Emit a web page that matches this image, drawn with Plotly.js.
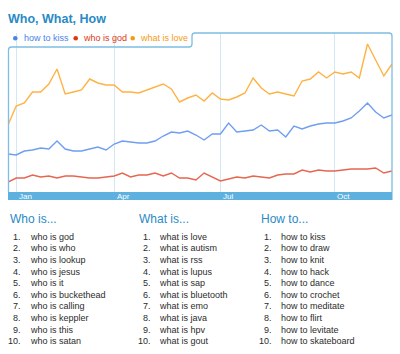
<!DOCTYPE html>
<html>
<head>
<meta charset="utf-8">
<script src="https://cdn.plot.ly/plotly-3.0.1.min.js"></script>
<style>html,body{margin:0;padding:0;background:#fff;}#chart{width:400px;height:354px;}</style>
</head>
<body>
<div id="chart"></div>
<script>
// ---- data (weekly index values) ----
const seriesNames = ['how to kiss', 'who is god', 'what is love'];
const howToKiss = [38,37,41,42,44,43,51,43,41,41,43,45,42,48,51,50,49,49,51,56,60,59,61,57,52,58,58,69,60,61,62,67,61,62,55,66,63,66,68,69,69,71,74,81,89,80,74,77];
const whoIsGod = [10,14,14,17,15,16,14,16,16,15,14,14,15,16,19,15,17,17,19,16,19,14,14,12,19,15,11,13,15,14,16,15,14,17,18,18,22,20,22,21,21,22,23,23,23,24,19,21];
const whatIsLove = [67,86,89,100,100,108,123,98,100,102,113,109,107,107,100,100,99,102,105,108,103,90,94,97,91,99,93,92,95,99,114,104,98,100,98,96,111,113,120,114,120,118,120,114,148,132,116,128];
const tickWeeks = [1, 13, 26, 40];
const tickLabels = ['Jan', 'Apr', 'Jul', 'Oct'];
const chartTitle = 'Who, What, How';
const listHeadings = ['Who is...', 'What is...', 'How to...'];
const whoIsList = ['who is god','who is who','who is lookup','who is jesus','who is it','who is buckethead','who is calling','who is keppler','who is this','who is satan'];
const whatIsList = ['what is love','what is autism','what is rss','what is lupus','what is sap','what is bluetooth','what is emo','what is java','what is hpv','what is gout'];
const howToList = ['how to kiss','how to draw','how to knit','how to hack','how to dance','how to crochet','how to meditate','how to flirt','how to levitate','how to skateboard'];

// ---- layout helpers (pixel -> paper) ----
const W = 400, H = 354, L = 8, R = 392, T = 33, B = 192;
const px = x => (x - L) / (R - L);
const py = y => (B - y) / (B - T);
const FONT = 'Liberation Sans, Arial, sans-serif';
const colors = ['#6f9ff0', '#e5674f', '#ffb244'];
const legendColors = ['#4a84ea', '#dc3912', '#f59b12'];
const blue = '#2a8ac6';

const weeks = whatIsLove.map((_, i) => i);
const allSeries = [howToKiss, whoIsGod, whatIsLove];
const traces = allSeries.map((s, k) => ({
  x: weeks, y: s, type: 'scatter', mode: 'lines', name: seriesNames[k],
  line: {color: colors[k], width: 1.4}, hoverinfo: 'skip'
}));

const ann = [];
// legend
const dotX = [15.3, 75.7, 132.7];
const textX = [21.5, 80.5, 137.5];
const shapes = [];
seriesNames.forEach((n, k) => {
  const r = 2.3;
  shapes.push({type:'circle', xref:'paper', yref:'paper', x0: px(dotX[k] - r), x1: px(dotX[k] + r), y0: py(38.3 + r), y1: py(38.3 - r), fillcolor: legendColors[k], line:{width:0}});
  ann.push({xref:'paper', yref:'paper', x: px(textX[k]), y: py(38), xanchor:'left', yanchor:'middle', text:n, showarrow:false, font:{family:FONT, size:9, color: legendColors[k]}});
});
// month labels in band
tickWeeks.forEach((w, k) => {
  ann.push({xref:'x', yref:'paper', x: w, xshift: 0.5, y: py(196.3), xanchor:'left', yanchor:'middle', text: tickLabels[k], showarrow:false, font:{family:FONT, size:8, color:'#ffffff'}});
});
// lists
const lists = [whoIsList, whatIsList, howToList];
const headX = [7.5, 137, 258.5];
const numRight = [22.5, 152.5, 273.5];
const textLeft = [28, 157, 279];
lists.forEach((lst, c) => {
  ann.push({xref:'paper', yref:'paper', x: px(headX[c]), y: py(218.5), xanchor:'left', yanchor:'middle', text: listHeadings[c], showarrow:false, font:{family:FONT, size:12, color: blue}});
  lst.forEach((item, i) => {
    const yy = py(236.7 + i * 11.6);
    ann.push({xref:'paper', yref:'paper', x: px(numRight[c]), y: yy, xanchor:'right', yanchor:'middle', text: (i + 1) + '.', showarrow:false, font:{family:FONT, size:9, color:'#2b2b2b'}});
    ann.push({xref:'paper', yref:'paper', x: px(textLeft[c]), y: yy, xanchor:'left', yanchor:'middle', text: item, showarrow:false, font:{family:FONT, size:9, color:'#2b2b2b'}});
  });
});

// frame with legend tab
const P = (x, y) => px(x).toFixed(5) + ',' + py(y).toFixed(5);
const framePath = 'M' + P(8.5,192) + ' L' + P(8.5,50) + ' Q' + P(8.5,47) + ' ' + P(11.5,47) +
  ' L' + P(189,47) + ' Q' + P(192,47) + ' ' + P(192,44) + ' L' + P(192,36) + ' Q' + P(192,33) + ' ' + P(195,33) +
  ' L' + P(389,33) + ' Q' + P(392,33) + ' ' + P(392,36) + ' L' + P(392,192);
shapes.push({type:'rect', xref:'paper', yref:'paper', x0: px(8), x1: px(392.5), y0: py(200), y1: py(192), fillcolor:'#5eb0de', line:{width:0}, layer:'above'});
shapes.push({type:'path', xref:'paper', yref:'paper', path: framePath, line:{color:'#7fbde2', width:1.3}, layer:'above'});

const layout = {
  width: W, height: H,
  margin: {l: L, r: W - R, t: T, b: H - B, pad: 0},
  paper_bgcolor: '#ffffff', plot_bgcolor: '#ffffff',
  showlegend: false,
  title: {text: chartTitle, xref:'container', yref:'container', x: 8/W, xanchor:'left', y: 1 - 18.5/H, yanchor:'middle', font:{family:FONT, size:12.5, color: blue, weight: 'bold'}},
  xaxis: {range: [0, 47], tickvals: tickWeeks, showticklabels: false, ticks: '', showgrid: true, gridcolor: '#d3e8f5', gridwidth: 1, zeroline: false, showline: false, fixedrange: true},
  yaxis: {range: [0, 159], showgrid: false, zeroline: false, showticklabels: false, ticks: '', showline: false, fixedrange: true},
  annotations: ann,
  shapes: shapes,
  font: {family: FONT}
};
Plotly.newPlot('chart', traces, layout, {displayModeBar: false, staticPlot: true});
</script>
</body>
</html>
